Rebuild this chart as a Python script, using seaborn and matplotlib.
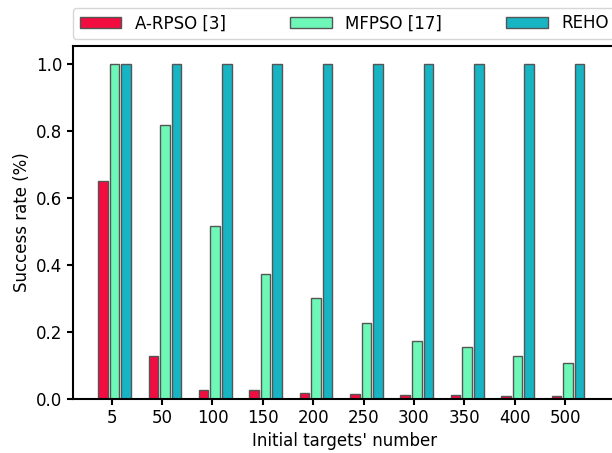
import numpy as np
import pandas as pd
import matplotlib
matplotlib.use("Agg")
import matplotlib.pyplot as plt
import seaborn as sns

categories = ["5", "50", "100", "150", "200", "250", "300", "350", "400", "500"]
methods = ["A-RPSO [3]", "MFPSO [17]", "REHO"]
arpso = [0.65, 0.128, 0.026, 0.026, 0.017, 0.014, 0.009, 0.009, 0.008, 0.006]
mfpso = [1.0, 0.818, 0.516, 0.373, 0.301, 0.227, 0.173, 0.154, 0.126, 0.105]
reho = [1.0, 1.0, 1.0, 1.0, 1.0, 1.0, 1.0, 1.0, 1.0, 1.0]
colors = ["#F20C3F", "#6EF8B8", "#17B5C3"]

df = pd.DataFrame({
    "targets": categories * 3,
    "method": [methods[0]] * 10 + [methods[1]] * 10 + [methods[2]] * 10,
    "rate": arpso + mfpso + reho,
})

sns.set_theme(style="ticks")
plt.rcParams["font.family"] = ["DejaVu Sans"]
plt.rcParams["axes.linewidth"] = 1.5
plt.rcParams["text.color"] = "black"
plt.rcParams["axes.labelcolor"] = "black"
plt.rcParams["xtick.color"] = "black"
plt.rcParams["ytick.color"] = "black"
plt.rcParams["axes.edgecolor"] = "black"

fig = plt.figure(figsize=(6.12, 4.53), dpi=100)
ax = fig.add_axes([0.1193, 0.1203, 0.8863, 0.7782])

sns.barplot(data=df, x="targets", y="rate", hue="method", order=categories,
            hue_order=methods, palette=colors, width=0.69, gap=0.174,
            edgecolor="#555555", linewidth=1.0, saturation=1, ax=ax)

ax.set_xlim(-0.824, 9.944)
ax.set_ylim(0, 1.054)
ax.set_xticks(np.arange(len(categories)) - 0.056)
ax.set_xticklabels(categories)
ax.set_yticks([0.0, 0.2, 0.4, 0.6, 0.8, 1.0])
ax.set_yticklabels(["0.0", "0.2", "0.4", "0.6", "0.8", "1.0"])
ax.tick_params(axis="both", labelsize=12, width=1.5, length=4, direction="out",
               color="black", labelcolor="black")
ax.set_xlabel("Initial targets' number", fontsize=12, color="black")
ax.set_ylabel("Success rate (%)", fontsize=12, color="black")
for s in ax.spines.values():
    s.set_color("black")
    s.set_linewidth(1.5)

handles, labels = ax.get_legend_handles_labels()
leg = ax.legend(handles, labels, loc="lower left", bbox_to_anchor=(0, 1.02, 1, 0.1),
                mode="expand", ncol=3, borderaxespad=0, fontsize=12, frameon=True,
                handlelength=2.5)
for t in leg.get_texts():
    t.set_color("black")

fig.savefig("out.png", dpi=100)
